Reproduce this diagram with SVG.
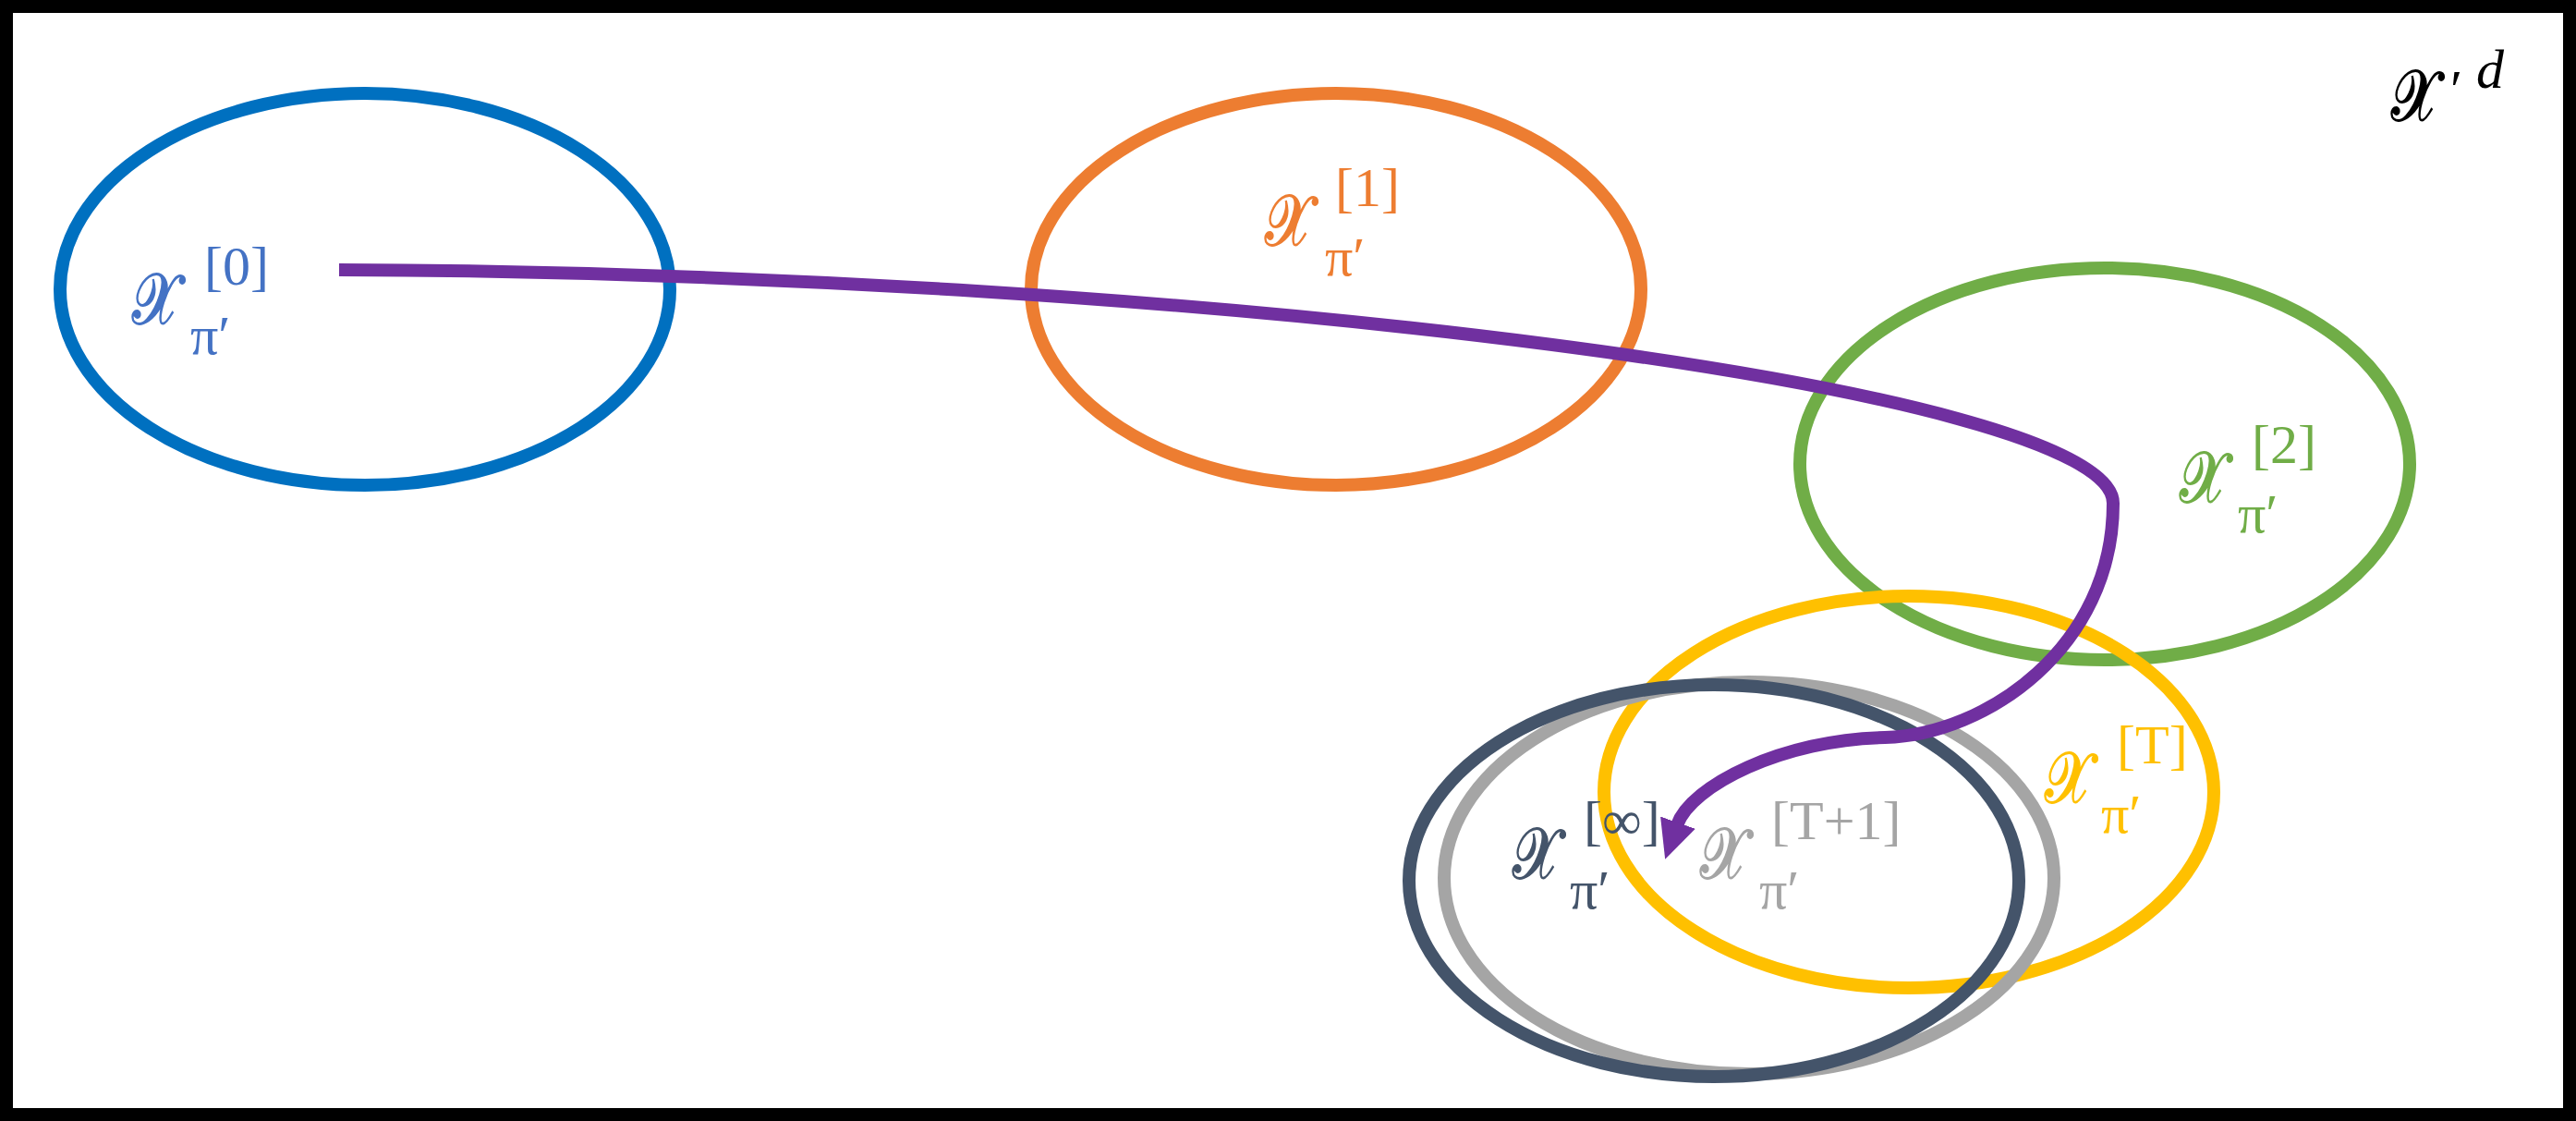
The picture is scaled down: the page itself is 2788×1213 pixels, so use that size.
<svg xmlns="http://www.w3.org/2000/svg" width="2788" height="1213" viewBox="0 0 2788 1213">
<style>
.set{fill:none;stroke-width:14}
.m{font-family:"DejaVu Serif","Liberation Serif","Noto Sans",serif;font-size:78px;stroke-width:1.8}
.s{font-family:"Liberation Serif","DejaVu Serif",serif;font-size:60px;stroke:none}
.blue{fill:#4472C4;stroke:#4472C4}.orange{fill:#ED7D31;stroke:#ED7D31}.green{fill:#70AD47;stroke:#70AD47}.yellow{fill:#FFC000;stroke:#FFC000}.gray{fill:#A5A5A5;stroke:#A5A5A5}.dark{fill:#44546A;stroke:#44546A}.black{fill:#000;stroke:#000}
</style>
<defs>
<marker id="ah" markerUnits="userSpaceOnUse" markerWidth="42" markerHeight="42" viewBox="0 0 42 42" refX="3" refY="21" orient="auto">
<path d="M0,1 L42,21 L0,41 z" fill="#7030A0"/>
</marker>
</defs>
<rect x="0" y="0" width="2788" height="1213" fill="#fff"/>
<rect x="7" y="7" width="2774" height="1199" fill="none" stroke="#000" stroke-width="14"/>

<g id="set0"><ellipse class="set" cx="395" cy="313" rx="330" ry="212" stroke="#0070C0"/></g>
<g id="set1"><ellipse class="set" cx="1446" cy="313" rx="330" ry="212" stroke="#ED7D31"/></g>
<g id="set2"><ellipse class="set" cx="2278" cy="502" rx="330" ry="212" stroke="#70AD47"/></g>
<g id="setT"><ellipse class="set" cx="2066" cy="857" rx="330" ry="212" stroke="#FFC000"/></g>
<g id="setT1"><ellipse class="set" cx="1893" cy="950" rx="330" ry="212" stroke="#A5A5A5"/></g>
<g id="setInf"><ellipse class="set" cx="1855" cy="953" rx="330" ry="212" stroke="#44546A"/></g>

<g id="connectors">
<path d="M367,292 C1300,295 2290,420 2287,545 C2287,700 2150,795 2040,798 C1930,800 1830,850 1815,893" fill="none" stroke="#7030A0" stroke-width="14" marker-end="url(#ah)"/>
</g>

<g id="label0" class="blue">
<text class="m" transform="translate(143,350) scale(0.76,1)">𝒳</text>
<text class="s" x="221" y="308">[0]</text>
<text class="s" x="206" y="383">π′</text>
</g>
<g id="label1" class="orange">
<text class="m" transform="translate(1369,265) scale(0.76,1)">𝒳</text>
<text class="s" x="1445" y="223">[1]</text>
<text class="s" x="1434" y="298">π′</text>
</g>
<g id="label2" class="green">
<text class="m" transform="translate(2359,543) scale(0.76,1)">𝒳</text>
<text class="s" x="2437" y="501">[2]</text>
<text class="s" x="2422" y="576">π′</text>
</g>
<g id="labelT" class="yellow">
<text class="m" transform="translate(2213,868) scale(0.76,1)">𝒳</text>
<text class="s" x="2291" y="826">[T]</text>
<text class="s" x="2274" y="901">π′</text>
</g>
<g id="labelInf" class="dark">
<text class="m" transform="translate(1637,950) scale(0.76,1)">𝒳</text>
<text class="s" x="1714" y="908">[∞]</text>
<text class="s" x="1699" y="983">π′</text>
</g>
<g id="labelT1" class="gray">
<text class="m" transform="translate(1840,950) scale(0.76,1)">𝒳</text>
<text class="s" x="1917" y="908">[T+1]</text>
<text class="s" x="1904" y="983">π′</text>
</g>
<g id="space" class="black">
<text class="m" transform="translate(2588,130) scale(0.76,1)">𝒳</text>
<text class="s" x="2652" y="117" font-size="60">′</text>
<text class="s" x="2680" y="95" font-size="44" font-style="italic">d</text>
</g>
</svg>
